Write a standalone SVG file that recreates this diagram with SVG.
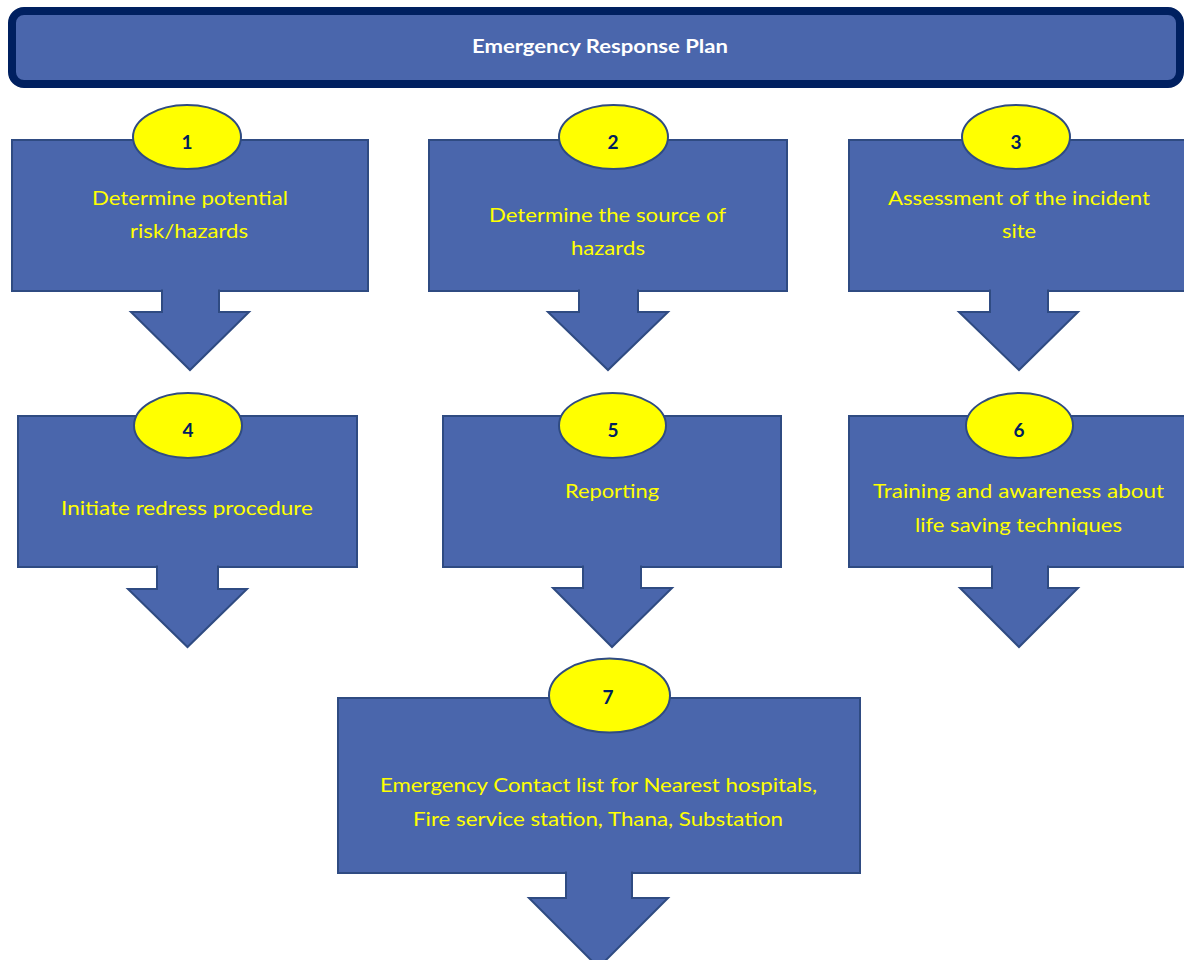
<svg xmlns="http://www.w3.org/2000/svg" width="1184" height="960" viewBox="0 0 1184 960">
  <style>
    .box { fill: #4A66AC; stroke: #2F4B82; stroke-width: 2; }
    .flow { fill: #4A66AC; stroke: #2F4B82; stroke-width: 2; stroke-linejoin: miter; }
    .badge { fill: #FFFF00; stroke: #2F4B82; stroke-width: 2; }
    .num { font-family: Lato, "Liberation Sans", sans-serif; font-weight: bold; font-size: 19px; fill: #002060; text-anchor: middle; }
    .label { font-family: Lato, "Liberation Sans", sans-serif; font-size: 20px; fill: #FFFF00; text-anchor: middle; }
    .title { font-family: Lato, "Liberation Sans", sans-serif; font-weight: bold; font-size: 19px; fill: #FFFFFF; text-anchor: middle; }
  </style>
  <rect width="1184" height="960" fill="#FFFFFF"/>

  <!-- banner -->
  <g id="header">
    <rect x="12" y="11" width="1168" height="73" rx="12" ry="12" fill="#4A66AC" stroke="#002060" stroke-width="8"/>
    <text class="title" x="600" y="53" textLength="256" lengthAdjust="spacingAndGlyphs">Emergency Response Plan</text>
  </g>

  <!-- step boxes -->
  <g id="step1">
    <rect class="box" x="12" y="140" width="356" height="151"/>
    <text class="label" x="190" y="205" textLength="196" lengthAdjust="spacingAndGlyphs">Determine potential</text>
    <text class="label" x="189" y="238" textLength="118" lengthAdjust="spacingAndGlyphs">risk/hazards</text>
  </g>
  <g id="step2">
    <rect class="box" x="429" y="140" width="358" height="151"/>
    <text class="label" x="607.5" y="222" textLength="237" lengthAdjust="spacingAndGlyphs">Determine the source of</text>
    <text class="label" x="608" y="255" textLength="74" lengthAdjust="spacingAndGlyphs">hazards</text>
  </g>
  <g id="step3">
    <rect class="box" x="849" y="140" width="340" height="151"/>
    <text class="label" x="1019" y="205" textLength="262" lengthAdjust="spacingAndGlyphs">Assessment of the incident</text>
    <text class="label" x="1019" y="238" textLength="34" lengthAdjust="spacingAndGlyphs">site</text>
  </g>
  <g id="step4">
    <rect class="box" x="18" y="416" width="339" height="151"/>
    <text class="label" x="187" y="515" textLength="252" lengthAdjust="spacingAndGlyphs">Initiate redress procedure</text>
  </g>
  <g id="step5">
    <rect class="box" x="443" y="416" width="338" height="151"/>
    <text class="label" x="612" y="498" textLength="94" lengthAdjust="spacingAndGlyphs">Reporting</text>
  </g>
  <g id="step6">
    <rect class="box" x="849" y="416" width="340" height="151"/>
    <text class="label" x="1018.5" y="498" textLength="291" lengthAdjust="spacingAndGlyphs">Training and awareness about</text>
    <text class="label" x="1018.5" y="532" textLength="207" lengthAdjust="spacingAndGlyphs">life saving techniques</text>
  </g>
  <g id="step7">
    <rect class="box" x="338" y="698" width="522" height="175"/>
    <text class="label" x="598.5" y="792" textLength="437" lengthAdjust="spacingAndGlyphs">Emergency Contact list for Nearest hospitals,</text>
    <text class="label" x="598" y="826" textLength="370" lengthAdjust="spacingAndGlyphs">Fire service station, Thana, Substation</text>
  </g>

  <!-- downward block arrows leaving each box -->
  <g id="connectors">
    <path class="flow" d="M162,289.5 V312 H131 L190,370 L249,312 H219 V289.5"/>
    <path class="flow" d="M579,289.5 V312 H548 L608,370 L668,312 H638 V289.5"/>
    <path class="flow" d="M990,289.5 V312 H959 L1019,370 L1078,312 H1048 V289.5"/>
    <path class="flow" d="M157,565.5 V589 H128 L187.5,647 L247,589 H218 V565.5"/>
    <path class="flow" d="M583,565.5 V588 H553 L612,647 L672,588 H641 V565.5"/>
    <path class="flow" d="M992,565.5 V588 H960 L1019,647 L1078,588 H1048 V565.5"/>
    <path class="flow" d="M566,871.5 V898 H529 L598.5,967.5 L668,898 H632 V871.5"/>
  </g>

  <!-- numbered badges -->
  <g id="badge1">
    <ellipse class="badge" cx="187" cy="137" rx="54" ry="32"/>
    <text class="num" x="187" y="149">1</text>
  </g>
  <g id="badge2">
    <ellipse class="badge" cx="613.5" cy="137" rx="54.5" ry="32"/>
    <text class="num" x="613" y="149">2</text>
  </g>
  <g id="badge3">
    <ellipse class="badge" cx="1016" cy="137" rx="54" ry="32"/>
    <text class="num" x="1016" y="149">3</text>
  </g>
  <g id="badge4">
    <ellipse class="badge" cx="188" cy="425.5" rx="54" ry="32.5"/>
    <text class="num" x="188" y="437">4</text>
  </g>
  <g id="badge5">
    <ellipse class="badge" cx="612.5" cy="425.5" rx="53.5" ry="32.5"/>
    <text class="num" x="613" y="437">5</text>
  </g>
  <g id="badge6">
    <ellipse class="badge" cx="1019.5" cy="425.5" rx="53.5" ry="32.5"/>
    <text class="num" x="1019" y="437">6</text>
  </g>
  <g id="badge7">
    <ellipse class="badge" cx="609.5" cy="695.5" rx="60.5" ry="37"/>
    <text class="num" x="608" y="704">7</text>
  </g>
</svg>
